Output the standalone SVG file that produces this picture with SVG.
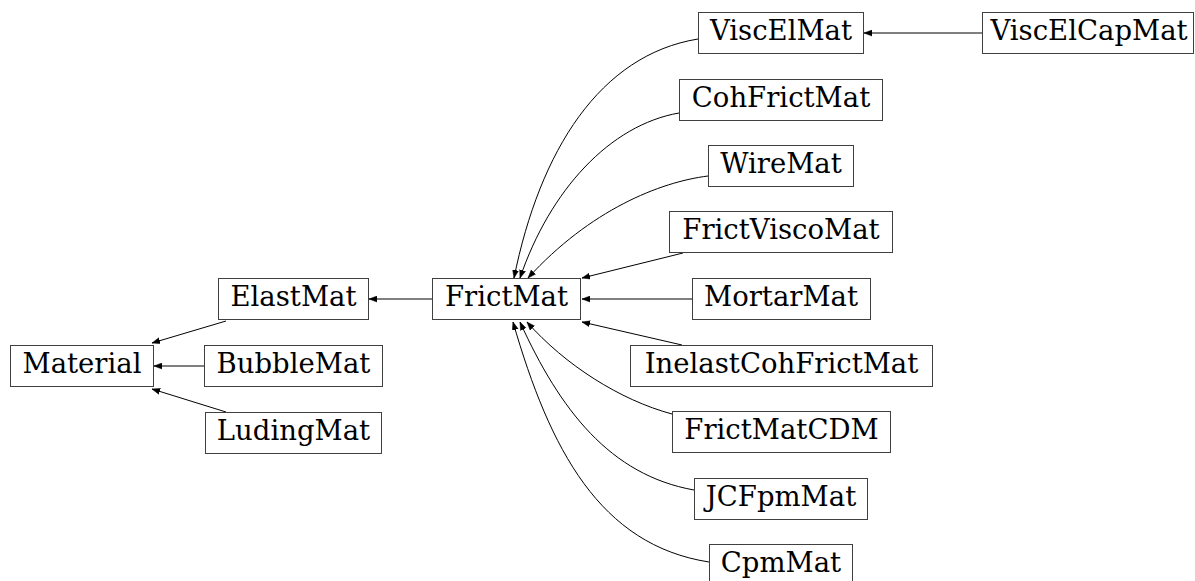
<svg xmlns="http://www.w3.org/2000/svg" width="1195" height="581" viewBox="0 0 1195 581">
<style>
.n rect{fill:#fff;stroke:#404040;stroke-width:1}
.n text{font-family:"DejaVu Serif",serif;font-size:27.5px;text-anchor:middle;fill:#000}
.e path{fill:none;stroke:#000;stroke-width:1;marker-end:url(#ah)}
</style>
<defs>
<marker id="ah" markerUnits="userSpaceOnUse" markerWidth="9" markerHeight="7" refX="8" refY="3.5" orient="auto" viewBox="0 0 9 7">
<path d="M0,0.5 L8,3.5 L0,6.5 z" fill="#000" stroke="#000" stroke-width="0.5"/>
</marker>
</defs>
<rect width="1195" height="581" fill="#fff"/>
<g id="edges" class="e">
<path d="M226,321 L152,343"/>
<path d="M204,366 L154,366"/>
<path d="M226,412 L152,389"/>
<path d="M432,299 L369,299"/>
<path d="M982,33 L864,33"/>
<path d="M698,39 C600,55 540,150 514,278"/>
<path d="M679,113 C610,125 550,190 520,278"/>
<path d="M708,176 C660,182 590,210 528,278"/>
<path d="M683,253 L582,278"/>
<path d="M692,299 L582,299"/>
<path d="M682,345 L582,322"/>
<path d="M672,414 C620,400 565,365 527,322"/>
<path d="M694,490 C610,475 560,410 520,322"/>
<path d="M709,562 C600,545 550,450 513,322"/>
</g>
<g id="Material" class="n"><rect x="10.5" y="345.5" width="143" height="41"/><text x="82" y="373">Material</text></g>
<g id="ElastMat" class="n"><rect x="218.5" y="278.5" width="150" height="41"/><text x="293.5" y="306">ElastMat</text></g>
<g id="BubbleMat" class="n"><rect x="204.5" y="345.5" width="178" height="41"/><text x="293.5" y="373">BubbleMat</text></g>
<g id="LudingMat" class="n"><rect x="205.5" y="412.5" width="176" height="41"/><text x="293.5" y="440">LudingMat</text></g>
<g id="FrictMat" class="n"><rect x="432.5" y="278.5" width="148" height="41"/><text x="506.5" y="306">FrictMat</text></g>
<g id="ViscElMat" class="n"><rect x="698.5" y="12.5" width="165" height="41"/><text x="781" y="40">ViscElMat</text></g>
<g id="ViscElCapMat" class="n"><rect x="982.5" y="12.5" width="211" height="41"/><text x="1089" y="40">ViscElCapMat</text></g>
<g id="CohFrictMat" class="n"><rect x="679.5" y="79.5" width="203" height="41"/><text x="781" y="107">CohFrictMat</text></g>
<g id="WireMat" class="n"><rect x="708.5" y="145.5" width="145" height="41"/><text x="781" y="173">WireMat</text></g>
<g id="FrictViscoMat" class="n"><rect x="669.5" y="211.5" width="223" height="41"/><text x="781" y="239">FrictViscoMat</text></g>
<g id="MortarMat" class="n"><rect x="692.5" y="278.5" width="178" height="41"/><text x="781" y="306">MortarMat</text></g>
<g id="InelastCohFrictMat" class="n"><rect x="630.5" y="345.5" width="302" height="41"/><text x="781.5" y="373">InelastCohFrictMat</text></g>
<g id="FrictMatCDM" class="n"><rect x="672.5" y="411.5" width="218" height="41"/><text x="781.5" y="439">FrictMatCDM</text></g>
<g id="JCFpmMat" class="n"><rect x="694.5" y="478.5" width="173" height="41"/><text x="781" y="506">JCFpmMat</text></g>
<g id="CpmMat" class="n"><rect x="709.5" y="544.5" width="143" height="41"/><text x="781" y="572">CpmMat</text></g>
</svg>
